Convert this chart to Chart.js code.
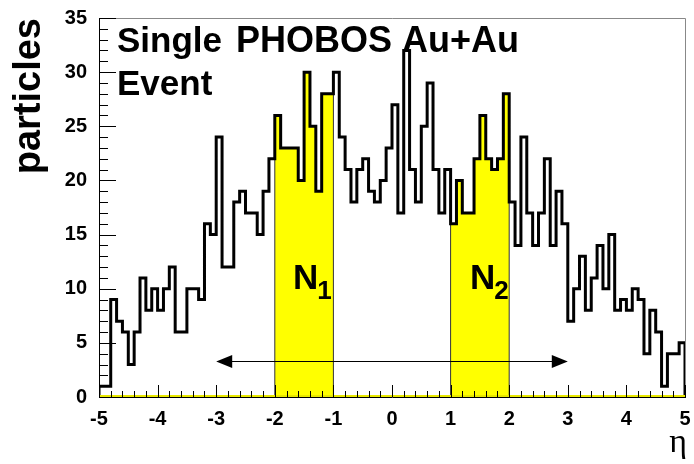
<!DOCTYPE html>
<html>
<head>
<meta charset="utf-8">
<script src="https://cdn.jsdelivr.net/npm/chart.js@4.4.0/dist/chart.umd.min.js"></script>
<style>
  html, body { margin: 0; padding: 0; background: #fff; }
  #wrap { width: 694px; height: 464px; position: relative; }
</style>
</head>
<body>
<div id="wrap"><canvas id="chart"></canvas></div>
<script>
// 100 pseudorapidity bins, 0.1 wide, from -5 to 5
const etaMin = -5;
const binWidth = 0.1;
const counts = [
  1, 1, 9, 7, 6, 3, 6, 11, 8, 10,
  8, 10, 12, 6, 6, 10, 10, 9, 16, 15,
  24, 12, 12, 18, 19, 17, 17, 15, 19, 22,
  26, 23, 23, 23, 20, 30, 25, 19, 28, 28,
  30, 24, 21, 18, 21, 22, 19, 18, 20, 23,
  27, 17, 32, 21, 18, 25, 29, 21, 17, 21,
  16, 20, 17, 17, 22, 26, 22, 21, 22, 28,
  18, 14, 24, 17, 14, 17, 22, 14, 19, 16,
  7, 10, 13, 8, 11, 14, 10, 15, 8, 9,
  8, 10, 9, 4, 8, 6, 1, 4, 4, 5
];
const xTicks = [-5, -4, -3, -2, -1, 0, 1, 2, 3, 4, 5];
const yTicks = [0, 5, 10, 15, 20, 25, 30, 35];

// eta windows summed into N1 and N2 (first/last bin index, exclusive end)
const windowN1 = [30, 40];
const windowN2 = [60, 70];
const arrowSpan = [-3, 3];
const arrowLevel = 3.3;

const labelFont = { family: 'Liberation Sans', weight: 'bold', size: 20 };

// step outline points for bins [from, to)
function stepPoints(from, to) {
  const pts = [{ x: etaMin + from * binWidth, y: 0 }];
  for (let i = from; i < to; i++) {
    pts.push({ x: +(etaMin + i * binWidth).toFixed(2), y: counts[i] });
  }
  pts.push({ x: +(etaMin + to * binWidth).toFixed(2), y: counts[to - 1] });
  pts.push({ x: +(etaMin + to * binWidth).toFixed(2), y: 0 });
  return pts;
}

function windowSet(win) {
  return {
    data: stepPoints(win[0], win[1]),
    stepped: 'before',
    borderColor: '#333',
    borderWidth: 1,
    backgroundColor: '#ffff00',
    fill: 'origin',
    pointRadius: 0,
    order: 2
  };
}

const rootStyle = {
  id: 'rootStyle',
  afterDatasetsDraw(chart) {
    const { ctx, chartArea: a, scales: { x, y } } = chart;
    ctx.save();

    // frame
    ctx.strokeStyle = '#888';
    ctx.lineWidth = 1;
    ctx.beginPath();
    ctx.moveTo(a.left, a.top + 0.5);
    ctx.lineTo(a.right + 0.5, a.top + 0.5);
    ctx.lineTo(a.right + 0.5, a.bottom);
    ctx.stroke();

    // baseline: yellow fill edge over the black axis
    ctx.strokeStyle = '#000';
    ctx.beginPath();
    ctx.moveTo(a.left, a.bottom + 0.5);
    ctx.lineTo(a.right + 1, a.bottom + 0.5);
    ctx.moveTo(a.left + 0.5, a.top);
    ctx.lineTo(a.left + 0.5, a.bottom + 1);
    ctx.stroke();
    ctx.strokeStyle = '#e8e800';
    ctx.lineWidth = 2;
    ctx.beginPath();
    ctx.moveTo(a.left + 1, a.bottom - 1);
    ctx.lineTo(a.right, a.bottom - 1);
    ctx.stroke();

    // ticks drawn inside the frame
    ctx.strokeStyle = '#000';
    ctx.lineWidth = 1;
    ctx.beginPath();
    for (let v = 0; v <= 35; v++) {
      const py = Math.round(y.getPixelForValue(v)) + 0.5;
      ctx.moveTo(a.left, py);
      ctx.lineTo(a.left + (v % 5 === 0 ? 17 : 9), py);
    }
    for (let k = 0; k <= 50; k++) {
      const px = Math.round(x.getPixelForValue(-5 + k * 0.2)) + 0.5;
      ctx.moveTo(px, a.bottom);
      ctx.lineTo(px, a.bottom - (k % 5 === 0 ? 12 : 6));
    }
    ctx.stroke();

    // double arrow across |eta| < 3
    const ay = Math.round(y.getPixelForValue(arrowLevel)) + 0.5;
    const ax0 = x.getPixelForValue(arrowSpan[0]);
    const ax1 = x.getPixelForValue(arrowSpan[1]);
    ctx.beginPath();
    ctx.moveTo(ax0 + 10, ay);
    ctx.lineTo(ax1 - 10, ay);
    ctx.stroke();
    ctx.fillStyle = '#000';
    ctx.beginPath();
    ctx.moveTo(ax0, ay);
    ctx.lineTo(ax0 + 16, ay - 6.5);
    ctx.lineTo(ax0 + 16, ay + 6.5);
    ctx.closePath();
    ctx.moveTo(ax1, ay);
    ctx.lineTo(ax1 - 16, ay - 6.5);
    ctx.lineTo(ax1 - 16, ay + 6.5);
    ctx.closePath();
    ctx.fill();

    // window labels
    const nLabel = (x0, sub) => {
      const px = x.getPixelForValue(x0);
      const py = y.getPixelForValue(10);
      ctx.font = 'bold 35px "Liberation Sans"';
      ctx.textAlign = 'left';
      ctx.textBaseline = 'alphabetic';
      ctx.fillText('N', px, py);
      const w = ctx.measureText('N').width;
      ctx.font = 'bold 26px "Liberation Sans"';
      ctx.fillText(sub, px + w - 1, py + 10);
    };
    nLabel(-1.69, '1');
    nLabel(1.33, '2');

    // event caption
    ctx.textAlign = 'left';
    ctx.font = 'bold 35px "Liberation Sans"';
    ctx.fillText('Single', a.left + 18, 52);
    ctx.fillText('Event', a.left + 18, 95);
    ctx.font = 'bold 36px "Liberation Sans"';
    ctx.fillText('PHOBOS Au+Au', a.left + 137, 52);

    // axis titles
    ctx.save();
    ctx.translate(40, a.top);
    ctx.rotate(-Math.PI / 2);
    ctx.textAlign = 'right';
    ctx.font = 'bold 38px "Liberation Sans"';
    ctx.fillText('particles', 0, 0);
    ctx.restore();

    ctx.textAlign = 'right';
    ctx.font = '34px "Liberation Serif"';
    ctx.fillText('\u03b7', 687, 452);

    ctx.restore();
  }
};

const ctx = document.getElementById('chart').getContext('2d');
const chart = new Chart(ctx, {
  type: 'line',
  data: {
    datasets: [
      {
        data: stepPoints(0, counts.length),
        stepped: 'before',
        borderColor: '#000',
        borderWidth: 3,
        borderJoinStyle: 'miter',
        pointRadius: 0,
        fill: false,
        order: 1
      },
      windowSet(windowN1),
      windowSet(windowN2)
    ]
  },
  options: {
    responsive: true,
    maintainAspectRatio: false,
    animation: false,
    layout: { padding: { left: 0, right: 9, top: 18, bottom: 0 } },
    plugins: { legend: { display: false }, tooltip: { enabled: false } },
    scales: {
      x: {
        type: 'linear',
        min: -5,
        max: 5,
        afterFit: s => { s.height = 67; },
        afterBuildTicks: s => { s.ticks = xTicks.map(v => ({ value: v })); },
        grid: { display: false },
        border: { display: false },
        ticks: { font: labelFont, color: '#000', padding: 2, maxRotation: 0, autoSkip: false, callback: v => String(v) }
      },
      y: {
        min: 0,
        max: 35,
        afterFit: s => { s.width = 99; },
        afterBuildTicks: s => { s.ticks = yTicks.map(v => ({ value: v })); },
        grid: { display: false },
        border: { display: false },
        ticks: { font: labelFont, color: '#000', padding: 4, autoSkip: false, callback: v => String(v) }
      }
    }
  },
  plugins: [rootStyle]
});
</script>
</body>
</html>
